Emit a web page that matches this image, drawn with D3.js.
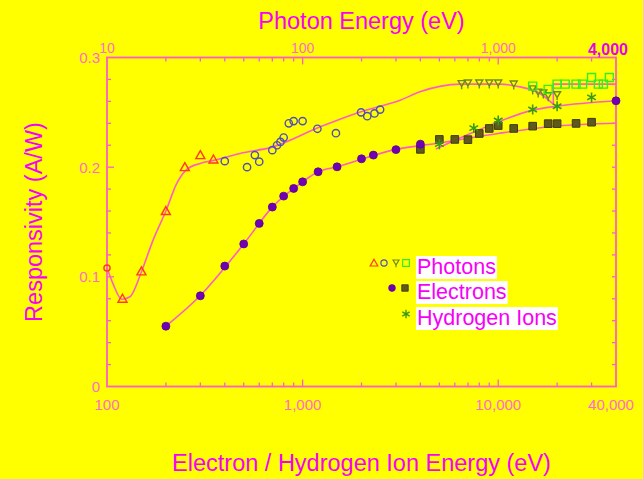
<!DOCTYPE html>
<html>
<head>
<meta charset="utf-8">
<script src="https://cdn.jsdelivr.net/npm/d3@7"></script>
<style>
  body { margin: 0; background: #ffff00; }
  svg { display: block; font-family: "Liberation Sans", Arial, sans-serif; }
</style>
</head>
<body>
<svg id="chart" width="643" height="479"></svg>
<script>
// photon points use the top axis (photon energy, eV); the rest use the bottom axis
var photonFirst = [[10, 0.108]];
var photonTriangles = [[12, 0.080], [15, 0.105], [20, 0.160], [25, 0.200], [30, 0.211], [35, 0.207]];
var photonCircles = [[40, 0.2055], [52, 0.200], [57, 0.211], [60, 0.205], [70, 0.2155], [74, 0.220],
  [77, 0.223], [80, 0.227], [85, 0.240], [90, 0.242], [100, 0.242], [119, 0.235], [148, 0.231],
  [199, 0.250], [214, 0.2465], [233, 0.249], [249, 0.2525]];
var photonDownTri = [[650, 0.2757], [700, 0.2763], [800, 0.2763], [900, 0.2763], [1000, 0.2763],
  [1200, 0.2754], [1500, 0.2709], [1600, 0.268], [1700, 0.2672], [1800, 0.2647], [2000, 0.2656]];
var photonSquares = [[1500, 0.2739], [1800, 0.2709], [2000, 0.2757], [2200, 0.2757], [2500, 0.2757],
  [2700, 0.2757], [3000, 0.2818], [3250, 0.2757], [3450, 0.2757], [3700, 0.2818]];

var electronDots = [[200, 0.055], [300, 0.0827], [400, 0.1098], [500, 0.130], [600, 0.1487], [700, 0.1636],
  [800, 0.1736], [900, 0.1806], [1000, 0.1866], [1200, 0.1958], [1500, 0.2003], [2000, 0.2076],
  [2300, 0.211], [3000, 0.216], [4000, 0.221], [40000, 0.2605]];
var electronSquares = [[4000, 0.2162], [5000, 0.2253], [6000, 0.2253], [7000, 0.2251], [8000, 0.2307],
  [9000, 0.2353], [10000, 0.2379], [12000, 0.2353], [15000, 0.2374], [18000, 0.2397], [20000, 0.2397],
  [25000, 0.2399], [30000, 0.241]];
var hydrogenStars = [[5000, 0.221], [7500, 0.2356], [10000, 0.2426], [15000, 0.2526], [20000, 0.2556],
  [30000, 0.2636]];

// fitted curves
var photonCurve = [[10, 0.108], [10.7, 0.0943], [11.9, 0.0795], [13.1, 0.0818], [15, 0.1046], [17.2, 0.1335],
  [20, 0.160], [22.7, 0.185], [25.6, 0.198], [29.9, 0.2034], [35.6, 0.2064], [47.9, 0.2125], [70.6, 0.2185],
  [123, 0.2368], [197, 0.2504], [315, 0.261], [398, 0.2687], [638, 0.2757], [1021, 0.2757], [1292, 0.2732],
  [1636, 0.2672], [1913, 0.2575]];
var photonEdge = [[1913, 0.2575], [1913, 0.2757], [4000, 0.2757]];
var electronCurve = [[200, 0.055], [300, 0.083], [500, 0.130], [700, 0.1636], [1000, 0.1866], [1200, 0.1958],
  [1500, 0.2003], [3000, 0.2162], [5000, 0.222], [10000, 0.2307], [20000, 0.2375], [40000, 0.240]];
var hydrogenCurve = [[4800, 0.2166], [7500, 0.232], [10000, 0.2413], [15000, 0.252], [20000, 0.2556],
  [40000, 0.2605]];

var bottomLabels = [[100, "100"], [1000, "1,000"], [10000, "10,000"], [40000, "40,000"]];
var topLabels = [[10, "10"], [100, "100"], [1000, "1,000"]];
var topEndLabel = [4000, "4,000"];
var yLabels = [[0, "0"], [0.1, "0.1"], [0.2, "0.2"], [0.3, "0.3"]];

var pink = "#ff5cc8", magenta = "#f700f7", labelPink = "#ff6ccc";

var svg = d3.select("#chart");
var x = d3.scaleLog().domain([100, 40000]).range([107, 616]);
var xTop = d3.scaleLog().domain([10, 4000]).range([107, 616]);
var y = d3.scaleLinear().domain([0, 0.3]).range([386.5, 57.5]);

var x0 = x.range()[0], x1 = x.range()[1], y0 = y.range()[0], y1 = y.range()[1];

// ticks, all pointing into the plot
function isDecade(v) { return Math.abs(Math.log10(v) - Math.round(Math.log10(v))) < 1e-6; }
var ticks = svg.append("g").attr("stroke", pink).attr("stroke-width", 1.3);
x.ticks().filter(function(v){ return v > 100 && v < 40000; }).forEach(function(v){
  var len = isDecade(v) ? 7 : 4;
  ticks.append("line").attr("x1", x(v)).attr("x2", x(v)).attr("y1", y0).attr("y2", y0 - len);
});
xTop.ticks().filter(function(v){ return v > 10 && v < 4000; }).forEach(function(v){
  var len = isDecade(v) ? 7 : 4;
  ticks.append("line").attr("x1", xTop(v)).attr("x2", xTop(v)).attr("y1", y1).attr("y2", y1 + len);
});
y.ticks(15).filter(function(v){ return v > 0 && v < 0.3; }).forEach(function(v){
  var major = Math.abs(v * 10 - Math.round(v * 10)) < 1e-6;
  ticks.append("line").attr("x1", x0).attr("x2", x0 + (major ? 7 : 4)).attr("y1", y(v)).attr("y2", y(v));
  ticks.append("line").attr("x1", x1).attr("x2", x1 - 4).attr("y1", y(v)).attr("y2", y(v));
});

svg.append("rect").attr("x", x0).attr("y", y1).attr("width", x1 - x0).attr("height", y0 - y1)
  .attr("fill", "none").attr("stroke", pink).attr("stroke-width", 1.8);

// tick labels
svg.append("g").selectAll("text").data(bottomLabels).enter().append("text")
  .attr("x", function(d){ return x(d[0]) - (d[0] === 40000 ? 5 : 0); }).attr("y", 410)
  .attr("text-anchor", "middle").attr("font-size", 15).attr("fill", labelPink)
  .text(function(d){ return d[1]; });
svg.append("g").selectAll("text").data(topLabels).enter().append("text")
  .attr("x", function(d){ return xTop(d[0]); }).attr("y", 52.5)
  .attr("text-anchor", "middle").attr("font-size", 14).attr("fill", labelPink)
  .text(function(d){ return d[1]; });
svg.append("text").attr("x", xTop(topEndLabel[0]) + 12).attr("y", 54.5)
  .attr("text-anchor", "end").attr("font-size", 16).attr("font-weight", "bold").attr("fill", "#e800e8")
  .text(topEndLabel[1]);
svg.append("g").selectAll("text").data(yLabels).enter().append("text")
  .attr("x", 100).attr("y", function(d){ return y(d[0]) + 5.5; })
  .attr("text-anchor", "end").attr("font-size", 15).attr("fill", labelPink)
  .text(function(d){ return d[1]; });

// axis titles
svg.append("text").attr("x", (x0 + x1) / 2).attr("y", 29).attr("text-anchor", "middle")
  .attr("font-size", 23.5).attr("fill", magenta).text("Photon Energy (eV)");
svg.append("text").attr("x", (x0 + x1) / 2).attr("y", 471).attr("text-anchor", "middle")
  .attr("font-size", 23.5).attr("fill", magenta).text("Electron / Hydrogen Ion Energy (eV)");
svg.append("text").attr("transform", "translate(42," + (y0 + y1) / 2 + ") rotate(-90)")
  .attr("text-anchor", "middle").attr("font-size", 23.5).attr("fill", magenta).text("Responsivity (A/W)");

// curves
function drawCurve(data, xs, curve) {
  var line = d3.line().x(function(d){ return xs(d[0]); }).y(function(d){ return y(d[1]); }).curve(curve);
  svg.append("path").datum(data).attr("d", line).attr("fill", "none")
    .attr("stroke", pink).attr("stroke-width", 1.6);
}
drawCurve(photonCurve, xTop, d3.curveMonotoneX);
drawCurve(photonEdge, xTop, d3.curveLinear);
drawCurve(electronCurve, x, d3.curveMonotoneX);
drawCurve(hydrogenCurve, x, d3.curveMonotoneX);

// marker shapes
var shapes = {
  triangle: { d: "M0,-4.5L4.5,3.5L-4.5,3.5Z", fill: "none", stroke: "#ff3a1a", width: 1.4 },
  circle: { d: d3.symbol(d3.symbolCircle, 42)(), fill: "none", stroke: "#5050b4", width: 1.4 },
  redCircle: { d: d3.symbol(d3.symbolCircle, 30)(), fill: "none", stroke: "#ff3a1a", width: 1.4 },
  downTri: { d: "M-3.5,-3.5L3.5,-3.5L0,2.5ZM0,2.5L0,5", fill: "none", stroke: "#6d8a1e", width: 1.4 },
  greenSquare: { d: "M-4,-4H4V4H-4Z", fill: "none", stroke: "#33ee22", width: 1.4 },
  dot: { d: d3.symbol(d3.symbolCircle, 50)(), fill: "#7000b4", stroke: "#5a0090", width: 0.8 },
  square: { d: "M-3.8,-3.8H3.8V3.8H-3.8Z", fill: "#5f5a1c", stroke: "#3e3a10", width: 1 },
  star: { d: d3.symbol(d3.symbolAsterisk, 70)(), fill: "none", stroke: "#3a9a18", width: 1.6 }
};

function drawMarks(data, xs, shape) {
  var s = shapes[shape];
  svg.append("g").selectAll("path").data(data).enter().append("path")
    .attr("transform", function(d){ return "translate(" + xs(d[0]) + "," + y(d[1]) + ")"; })
    .attr("d", s.d).attr("fill", s.fill).attr("stroke", s.stroke).attr("stroke-width", s.width);
}
drawMarks(photonFirst, xTop, "redCircle");
drawMarks(photonTriangles, xTop, "triangle");
drawMarks(photonCircles, xTop, "circle");
drawMarks(photonDownTri, xTop, "downTri");
drawMarks(photonSquares, xTop, "greenSquare");
drawMarks(electronSquares, x, "square");
drawMarks(electronDots, x, "dot");
drawMarks(hydrogenStars, x, "star");

// legend
var legendRows = [
  { label: "Photons", y: 266, marks: [["triangle", 374], ["circle", 384], ["downTri", 396], ["greenSquare", 406]] },
  { label: "Electrons", y: 291, marks: [["dot", 392], ["square", 405]] },
  { label: "Hydrogen Ions", y: 317, marks: [["star", 406]] }
];
var legend = svg.append("g");
legendRows.forEach(function(row){
  var t = legend.append("text").attr("x", 417).attr("y", row.y + 8).attr("font-size", 21.5)
    .attr("fill", magenta).text(row.label);
  var b = t.node().getBBox();
  legend.insert("rect", "text").attr("x", b.x - 1).attr("y", b.y + 1).attr("width", b.width + 2)
    .attr("height", b.height - 1).attr("fill", "#ffffff");
  row.marks.forEach(function(m){
    var s = shapes[m[0]];
    legend.append("path").attr("transform", "translate(" + m[1] + "," + (row.y - 3) + ") scale(0.85)")
      .attr("d", s.d).attr("fill", s.fill).attr("stroke", s.stroke).attr("stroke-width", s.width);
  });
});
</script>
</body>
</html>
